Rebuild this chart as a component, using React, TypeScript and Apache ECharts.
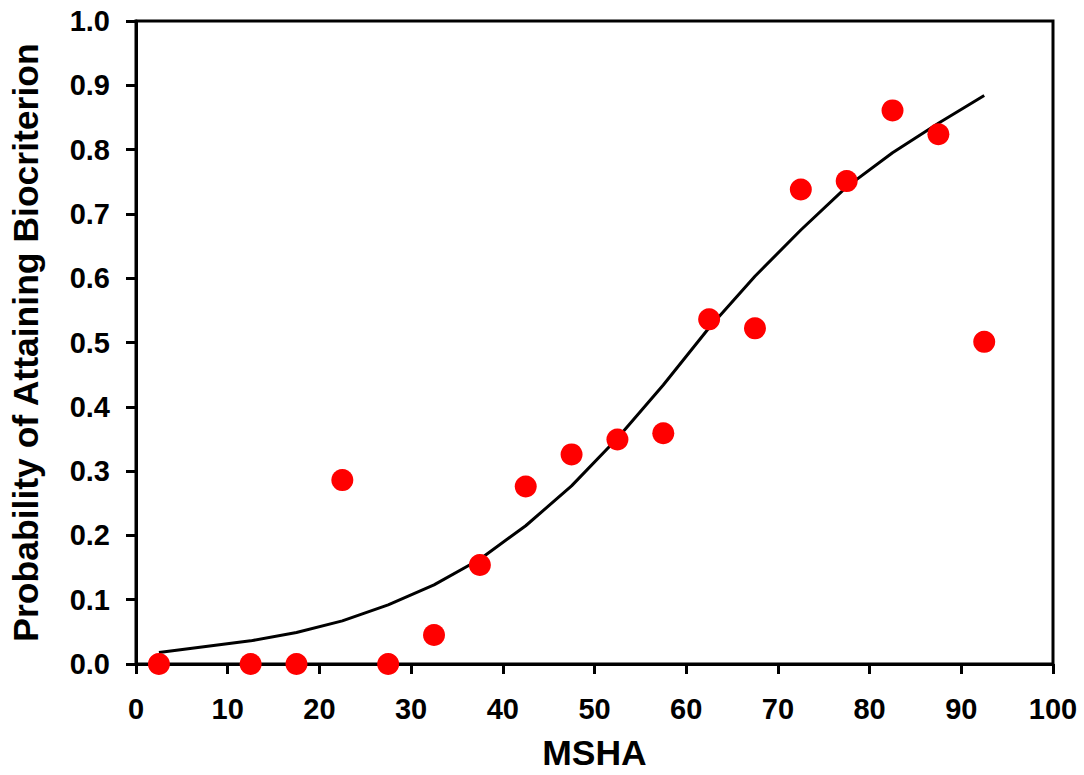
import React, { useEffect, useRef } from "react";
import * as echarts from "echarts";

const obsX = [2.5, 12.5, 17.5, 22.5, 27.5, 32.5, 37.5, 42.5, 47.5, 52.5, 57.5, 62.5, 67.5, 72.5, 77.5, 82.5, 87.5, 92.5];
const obsY = [0, 0, 0, 0.286, 0, 0.045, 0.154, 0.276, 0.326, 0.349, 0.359, 0.536, 0.522, 0.738, 0.751, 0.861, 0.824, 0.501];
const fitX = [2.5, 12.5, 17.5, 22.5, 27.5, 32.5, 37.5, 42.5, 47.5, 52.5, 57.5, 62.5, 67.5, 72.5, 77.5, 82.5, 87.5, 92.5];
const fitY = [0.018, 0.036, 0.049, 0.067, 0.092, 0.123, 0.163, 0.215, 0.277, 0.351, 0.434, 0.523, 0.603, 0.675, 0.742, 0.795, 0.841, 0.884];

const FONT = "'Liberation Sans', Arial, sans-serif";

export default function App() {
  const ref = useRef<HTMLDivElement>(null);
  useEffect(() => {
    if (!ref.current) return;
    const chart = echarts.init(ref.current, undefined, { renderer: "svg" });
    chart.setOption({
      animation: false,
      backgroundColor: "#ffffff",
      grid: {
        left: 136,
        right: 31,
        top: 21,
        bottom: 111,
        show: true,
        borderColor: "#000",
        borderWidth: 3,
        containLabel: false,
        outerBoundsMode: "none",
      },
      xAxis: {
        type: "value",
        min: 0,
        max: 100,
        interval: 10,
        name: "MSHA",
        nameLocation: "middle",
        nameGap: 71,
        nameTextStyle: { fontFamily: FONT, fontWeight: "bold", fontSize: 35.5, color: "#000" },
        axisLine: { show: true, onZero: false, lineStyle: { color: "#000", width: 3 } },
        axisTick: { show: true, inside: false, length: 10, lineStyle: { color: "#000", width: 3 } },
        axisLabel: { margin: 30, fontFamily: FONT, fontWeight: "bold", fontSize: 29, color: "#000" },
        splitLine: { show: false },
      },
      yAxis: {
        type: "value",
        min: 0,
        max: 1,
        interval: 0.1,
        name: "Probability of Attaining Biocriterion",
        nameLocation: "middle",
        nameGap: 92,
        nameTextStyle: { fontFamily: FONT, fontWeight: "bold", fontSize: 35.5, color: "#000" },
        axisLine: { show: true, onZero: false, lineStyle: { color: "#000", width: 3 } },
        axisTick: { show: true, inside: false, length: 10, lineStyle: { color: "#000", width: 3 } },
        axisLabel: {
          margin: 26,
          fontFamily: FONT,
          fontWeight: "bold",
          fontSize: 29,
          color: "#000",
          formatter: (v: number) => v.toFixed(1),
        },
        splitLine: { show: false },
      },
      series: [
        {
          type: "line",
          data: fitX.map((x, i) => [x, fitY[i]]),
          showSymbol: false,
          symbol: "none",
          lineStyle: { color: "#000", width: 3 },
          z: 2,
        },
        {
          type: "scatter",
          data: obsX.map((x, i) => [x, obsY[i]]),
          symbol: "circle",
          symbolSize: 22,
          itemStyle: { color: "#ff0000", opacity: 1 },
          clip: false,
          z: 3,
        },
      ],
    });
    return () => chart.dispose();
  }, []);
  return (
    <div
      ref={ref}
      style={{ position: "fixed", left: 0, top: 0, width: 1084, height: 775, background: "#fff" }}
    />
  );
}
